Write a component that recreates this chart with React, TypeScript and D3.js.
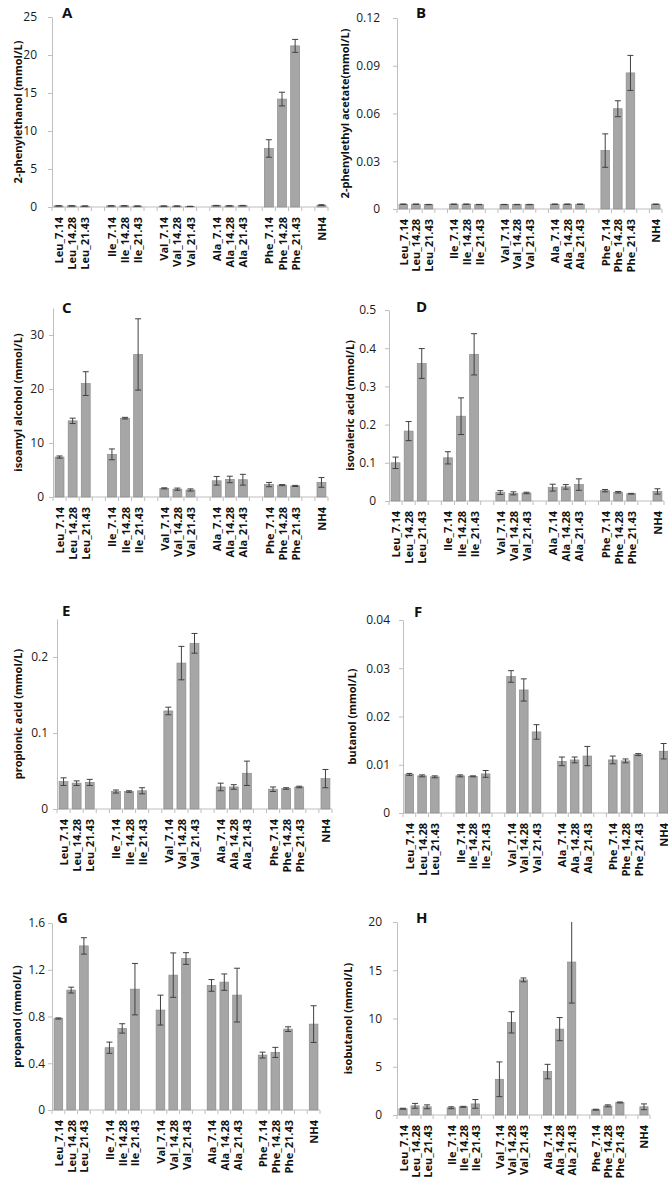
import { useEffect, useRef } from 'react'
import * as d3 from 'd3'

// x slots: 16 real categories plus empty gaps between amino-acid groups
const SLOTS = [
  'Leu_7.14', 'Leu_14.28', 'Leu_21.43', 'gap1',
  'Ile_7.14', 'Ile_14.28', 'Ile_21.43', 'gap2',
  'Val_7.14', 'Val_14.28', 'Val_21.43', 'gap3',
  'Ala_7.14', 'Ala_14.28', 'Ala_21.43', 'gap4',
  'Phe_7.14', 'Phe_14.28', 'Phe_21.43', 'gap5',
  'NH4',
]
const CATEGORIES = SLOTS.filter(s => !s.startsWith('gap'))

// A: 2-phenylethanol
const phenylethanol = [0.15, 0.15, 0.12, 0.15, 0.15, 0.12, 0.12, 0.12, 0.08, 0.18, 0.15, 0.18, 7.7, 14.2, 21.2, 0.25]
const phenylethanolErr = [0.02, 0.02, 0.02, 0.02, 0.02, 0.02, 0.02, 0.02, 0.02, 0.03, 0.02, 0.03, 1.15, 0.9, 0.85, 0.05]
const phenylethanolTicks = [0, 5, 10, 15, 20, 25]

// B: 2-phenylethyl acetate
const phenylethylAcetate = [0.003, 0.003, 0.0028, 0.003, 0.003, 0.0028, 0.0028, 0.0028, 0.0028, 0.003, 0.003, 0.003, 0.0367, 0.063, 0.0855, 0.003]
const phenylethylAcetateErr = [0.0001, 0.0001, 0.0001, 0.0001, 0.0001, 0.0001, 0.0001, 0.0001, 0.0001, 0.0001, 0.0001, 0.0001, 0.0105, 0.005, 0.011, 0.0001]
const phenylethylAcetateTicks = [0, 0.03, 0.06, 0.09, 0.12]

// C: isoamyl alcohol
const isoamylAlcohol = [7.4, 14.1, 21.0, 7.9, 14.6, 26.4, 1.6, 1.45, 1.3, 3.0, 3.25, 3.2, 2.3, 2.2, 2.05, 2.7]
const isoamylAlcoholErr = [0.2, 0.5, 2.2, 1.0, 0.15, 6.6, 0.1, 0.2, 0.2, 0.8, 0.6, 1.0, 0.4, 0.1, 0.1, 0.9]
const isoamylAlcoholTicks = [0, 10, 20, 30]

// D: isovaleric acid
const isovalericAcid = [0.100, 0.183, 0.360, 0.113, 0.222, 0.384, 0.022, 0.020, 0.021, 0.035, 0.037, 0.043, 0.027, 0.023, 0.019, 0.025]
const isovalericAcidErr = [0.015, 0.025, 0.039, 0.016, 0.048, 0.054, 0.005, 0.004, 0.002, 0.009, 0.006, 0.015, 0.003, 0.002, 0.001, 0.007]
const isovalericAcidTicks = [0, 0.1, 0.2, 0.3, 0.4, 0.5]

// E: propionic acid
const propionicAcid = [0.036, 0.034, 0.035, 0.023, 0.023, 0.024, 0.129, 0.192, 0.218, 0.029, 0.029, 0.047, 0.026, 0.027, 0.029, 0.040]
const propionicAcidErr = [0.005, 0.003, 0.004, 0.002, 0.001, 0.004, 0.005, 0.022, 0.013, 0.005, 0.003, 0.016, 0.003, 0.001, 0.001, 0.012]
const propionicAcidTicks = [0, 0.1, 0.2]

// F: butanol
const butanol = [0.0080, 0.0077, 0.0075, 0.0077, 0.0076, 0.0081, 0.0283, 0.0255, 0.0168, 0.0107, 0.0110, 0.0118, 0.0110, 0.0108, 0.0121, 0.0128]
const butanolErr = [0.0002, 0.0002, 0.0002, 0.0002, 0.0001, 0.0007, 0.0012, 0.0023, 0.0015, 0.0009, 0.0006, 0.0020, 0.0008, 0.0004, 0.0002, 0.0016]
const butanolTicks = [0, 0.01, 0.02, 0.03, 0.04]

// G: propanol
const propanol = [0.783, 1.026, 1.404, 0.533, 0.698, 1.034, 0.855, 1.154, 1.296, 1.066, 1.094, 0.983, 0.470, 0.493, 0.692, 0.735]
const propanolErr = [0.005, 0.025, 0.07, 0.048, 0.04, 0.22, 0.128, 0.19, 0.05, 0.05, 0.07, 0.23, 0.025, 0.043, 0.02, 0.157]
const propanolTicks = [0, 0.4, 0.8, 1.2, 1.6]

// H: isobutanol
const isobutanol = [0.65, 0.95, 0.85, 0.75, 0.85, 1.15, 3.7, 9.6, 14.0, 4.5, 8.9, 15.85, 0.55, 0.95, 1.3, 0.85]
const isobutanolErr = [0.05, 0.25, 0.2, 0.1, 0.05, 0.45, 1.8, 1.1, 0.2, 0.75, 1.2, 4.25, 0.05, 0.1, 0.05, 0.3]
const isobutanolTicks = [0, 5, 10, 15, 20]

const FONT = "'Open Sans', 'Noto Sans', Arial, sans-serif"
const BAR_FILL = '#a6a6a6'
const BAR_STROKE = '#8c8c8c'
const AXIS = '#bfbfbf'

const fmt = (digits: number) => (d: number) => (d === 0 ? '0' : d.toFixed(digits))

const PANELS = [
  { letter: 'A', title: '2-phenylethanol (mmol/L)', values: phenylethanol, errors: phenylethanolErr, ticks: phenylethanolTicks, max: 25, f: fmt(0),
    x0: 52, x1: 328, yTop: 17, yZero: 207, titleX: 17, letterX: 62, letterY: 18, pad: 11 },
  { letter: 'B', title: '2-phenylethyl acetate(mmol/L)', values: phenylethylAcetate, errors: phenylethylAcetateErr, ticks: phenylethylAcetateTicks, max: 0.12, f: fmt(2),
    x0: 397, x1: 662, yTop: 18, yZero: 209, titleX: 344, letterX: 416, letterY: 18, pad: 13 },
  { letter: 'C', title: 'isoamyl alcohol (mmol/L)', values: isoamylAlcohol, errors: isoamylAlcoholErr, ticks: isoamylAlcoholTicks, max: 35, f: fmt(0),
    x0: 53, x1: 328, yTop: 308, yZero: 497, titleX: 17, letterX: 62, letterY: 313, pad: 5 },
  { letter: 'D', title: 'isovaleric acid (mmol/L)', values: isovalericAcid, errors: isovalericAcidErr, ticks: isovalericAcidTicks, max: 0.5, f: fmt(1),
    x0: 389, x1: 664, yTop: 310, yZero: 501, titleX: 349, letterX: 416, letterY: 312, pad: 9 },
  { letter: 'E', title: 'propionic acid (mmol/L)', values: propionicAcid, errors: propionicAcidErr, ticks: propionicAcidTicks, max: 0.25, f: fmt(1),
    x0: 57, x1: 332, yTop: 619, yZero: 809, titleX: 17, letterX: 62, letterY: 616, pad: 5 },
  { letter: 'F', title: 'butanol (mmol/L)', values: butanol, errors: butanolErr, ticks: butanolTicks, max: 0.04, f: fmt(2),
    x0: 403, x1: 670, yTop: 620, yZero: 813, titleX: 351, letterX: 414, letterY: 617, pad: 9 },
  { letter: 'G', title: 'propanol (mmol/L)', values: propanol, errors: propanolErr, ticks: propanolTicks, max: 1.6, f: fmt(1),
    x0: 52, x1: 320, yTop: 923, yZero: 1110, titleX: 16, letterX: 57, letterY: 923, pad: 3 },
  { letter: 'H', title: 'isobutanol (mmol/L)', values: isobutanol, errors: isobutanolErr, ticks: isobutanolTicks, max: 20, f: fmt(0),
    x0: 397, x1: 650, yTop: 922, yZero: 1115, titleX: 347, letterX: 416, letterY: 923, pad: 11 },
]

type Panel = typeof PANELS[number]

function drawPanel(svg: d3.Selection<SVGSVGElement, unknown, null, undefined>, p: Panel) {
  const x = d3.scaleBand<string>().domain(SLOTS).range([p.x0, p.x1])
  const y = d3.scaleLinear().domain([0, p.max]).range([p.yZero, p.yTop])
  const g = svg.append('g').attr('font-family', FONT)
  const bw = x.bandwidth()

  // y axis
  const yAxis = d3.axisLeft(y).tickValues(p.ticks).tickFormat(d => p.f(+d)).tickSize(4).tickSizeOuter(0).tickPadding(p.pad)
  const ya = g.append('g').attr('transform', `translate(${p.x0},0)`).call(yAxis)
  ya.select('.domain').attr('stroke', AXIS)
  ya.selectAll('line').attr('stroke', AXIS)
  ya.selectAll('text').attr('font-size', 12).attr('fill', '#1a1a1a').attr('font-family', FONT)

  // x axis line + boundary ticks
  g.append('line').attr('x1', p.x0).attr('x2', p.x1).attr('y1', y(0)).attr('y2', y(0)).attr('stroke', AXIS)
  const bounds = SLOTS.map(s => x(s)!).concat([x(SLOTS[SLOTS.length - 1])! + bw])
  g.selectAll('.xt').data(bounds).join('line')
    .attr('x1', d => d).attr('x2', d => d).attr('y1', y(0)).attr('y2', y(0) + 4)
    .attr('stroke', AXIS)

  // category labels
  g.selectAll('.xl').data(CATEGORIES).join('text')
    .attr('transform', d => `translate(${x(d)! + bw / 2},${y(0) + 10}) rotate(-90)`)
    .attr('text-anchor', 'end').attr('dominant-baseline', 'central')
    .attr('font-size', 11).attr('font-weight', 'bold').attr('fill', '#111')
    .text(d => d)

  // bars
  const w = bw * 0.68
  g.selectAll('.bar').data(CATEGORIES).join('rect')
    .attr('x', d => x(d)! + (bw - w) / 2)
    .attr('y', (_, i) => y(p.values[i]))
    .attr('width', w)
    .attr('height', (_, i) => y(0) - y(p.values[i]))
    .attr('fill', BAR_FILL).attr('stroke', BAR_STROKE).attr('stroke-width', 0.7)

  // error bars
  CATEGORIES.forEach((c, i) => {
    const cx = x(c)! + bw / 2
    const hi = p.values[i] + p.errors[i]
    const lo = Math.max(0, p.values[i] - p.errors[i])
    const clipped = hi > p.max
    const yHi = y(Math.min(hi, p.max))
    const yLo = y(lo)
    const eg = g.append('g').attr('stroke', '#404040').attr('stroke-width', 1)
    eg.append('line').attr('x1', cx).attr('x2', cx).attr('y1', yHi).attr('y2', yLo)
    if (!clipped) eg.append('line').attr('x1', cx - 3).attr('x2', cx + 3).attr('y1', yHi).attr('y2', yHi)
    eg.append('line').attr('x1', cx - 3).attr('x2', cx + 3).attr('y1', yLo).attr('y2', yLo)
  })

  // y title
  g.append('text')
    .attr('transform', `translate(${p.titleX},${(p.yTop + p.yZero) / 2}) rotate(-90)`)
    .attr('text-anchor', 'middle').attr('dominant-baseline', 'central')
    .attr('font-size', 11).attr('font-weight', 'bold').attr('fill', '#111')
    .text(p.title)

  // panel letter
  g.append('text').attr('x', p.letterX).attr('y', p.letterY)
    .attr('font-size', 15).attr('font-weight', 'bold').attr('fill', '#111')
    .text(p.letter)
}

export default function App() {
  const ref = useRef<SVGSVGElement>(null)

  useEffect(() => {
    if (!ref.current) return
    const svg = d3.select(ref.current)
    svg.selectAll('*').remove()
    svg.append('rect').attr('width', 668).attr('height', 1190).attr('fill', '#fff')
    PANELS.forEach(p => drawPanel(svg, p))
  }, [])

  return (
    <div style={{ position: 'absolute', left: 0, top: 0 }}>
      <svg ref={ref} width={668} height={1190} style={{ display: 'block' }} />
    </div>
  )
}
